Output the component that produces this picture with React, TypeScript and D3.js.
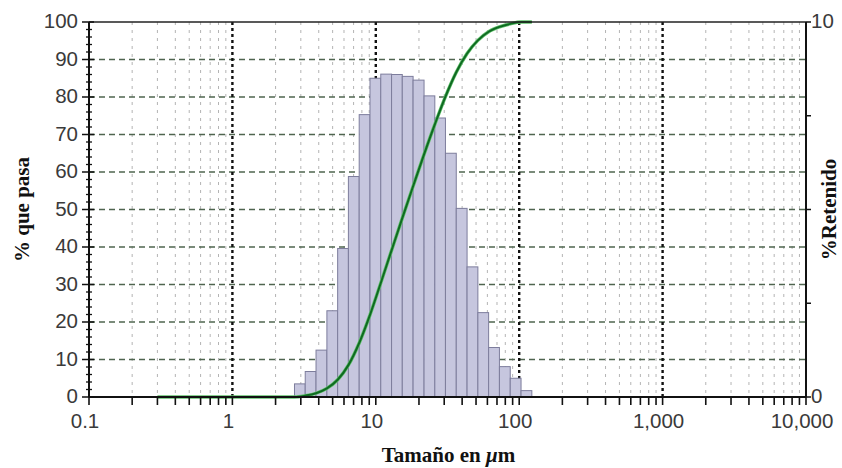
import * as d3 from 'd3';

// bin edges (µm), 22 bins
const binEdges = [2.71, 3.22, 3.83, 4.56, 5.42, 6.44, 7.66, 9.11, 10.83, 12.88, 15.3, 18.2, 21.7, 25.8, 30.6, 36.4, 43.3, 51.5, 61.2, 72.8, 86.6, 103, 122.5];
// % retained per bin (right axis)
const retained = [0.35, 0.68, 1.25, 2.3, 3.96, 5.88, 7.53, 8.5, 8.61, 8.6, 8.55, 8.45, 8.03, 7.44, 6.5, 5.03, 3.47, 2.25, 1.32, 0.81, 0.5, 0.17];

// cumulative passing curve (left axis)
const curveSize = [0.3, 2.71, 3.22, 3.83, 4.56, 5.42, 6.44, 7.66, 9.11, 10.83, 12.88, 15.3, 18.2, 21.7, 25.8, 30.6, 36.4, 43.3, 51.5, 61.2, 72.8, 86.6, 103, 122.5];
const curvePass = [0, 0, 0.35, 1.0, 2.3, 4.6, 8.5, 14.4, 21.9, 30.4, 39.1, 47.7, 56.2, 64.7, 72.7, 80.1, 86.6, 91.6, 95.1, 97.4, 98.7, 99.5, 100, 100];

const xTicks = [0.1, 1, 10, 100, 1000, 10000];
const xTickLabels = ['0.1', '1', '10', '100', '1,000', '10,000'];
const yTicks = [0, 10, 20, 30, 40, 50, 60, 70, 80, 90, 100];
const yRightTicks = [0, 2.5, 5, 7.5, 10];
const yRightLabels = ['0', '', '', '', '10'];

const left = 89, right = 806, top = 22, bottom = 397;

export default function App() {
    const x = d3.scaleLog().domain([0.1, 10000]).range([left, right]);
    const yL = d3.scaleLinear().domain([0, 100]).range([bottom, top]);
    const yR = d3.scaleLinear().domain([0, 10]).range([bottom, top]);

    // minor x positions 2..9 of each decade
    const minorX: number[] = [];
    xTicks.slice(0, -1).forEach(d => {
        for (let k = 2; k <= 9; k++) minorX.push(d * k);
    });
    const minorY = d3.range(0, 101, 2).filter(v => v % 10 !== 0);

    const line = d3.line<number>()
        .x((_, i) => x(curveSize[i]))
        .y(d => yL(d))
        .curve(d3.curveMonotoneX);

    const tickFont = { fontFamily: 'Arial, "Liberation Sans", sans-serif', fontSize: 20.5, fill: '#3a3a3a' };
    const titleFont = { fontFamily: '"Times New Roman", "Liberation Serif", serif', fontSize: 21, fontWeight: 'bold' as const, fill: '#111' };

    return (
        <svg width={842} height={468} style={{ position: 'absolute', left: 0, top: 0, background: '#fff' }}>
            {/* minor vertical grid */}
            {minorX.map((v, i) => (
                <line key={'mx' + i} x1={x(v)} x2={x(v)} y1={top} y2={bottom}
                    stroke="#b4b4b4" strokeWidth={1} strokeDasharray="3,5" />
            ))}
            {/* horizontal grid */}
            {yTicks.slice(1, -1).map(v => (
                <line key={'gy' + v} x1={left} x2={right} y1={yL(v)} y2={yL(v)}
                    stroke="#4f654f" strokeWidth={1.6} strokeDasharray="6,4" />
            ))}
            {/* decade vertical grid */}
            {xTicks.slice(1, -1).map(v => (
                <line key={'gx' + v} x1={x(v)} x2={x(v)} y1={top} y2={bottom}
                    stroke="#111" strokeWidth={2.4} strokeDasharray="3,3" />
            ))}

            {/* histogram */}
            {retained.map((v, i) => (
                <rect key={'b' + i}
                    x={x(binEdges[i])} width={x(binEdges[i + 1]) - x(binEdges[i])}
                    y={yR(v)} height={bottom - yR(v)}
                    fill="#c6c6de" stroke="#7d7d9c" strokeWidth={1} />
            ))}

            {/* cumulative curve */}
            <path d={line(curvePass) || ''} fill="none" stroke="#5fc06a" strokeWidth={3.4} />
            <path d={line(curvePass) || ''} fill="none" stroke="#0f6a22" strokeWidth={2} />

            {/* frame */}
            <line x1={left} x2={right} y1={top} y2={top} stroke="#222" strokeWidth={1.4} />
            <line x1={left} x2={right} y1={bottom} y2={bottom} stroke="#111" strokeWidth={2} />
            <line x1={left} x2={left} y1={top} y2={bottom} stroke="#111" strokeWidth={2} />
            <line x1={right} x2={right} y1={top} y2={bottom} stroke="#111" strokeWidth={2} />

            {/* left axis ticks */}
            {yTicks.map(v => (
                <g key={'yl' + v}>
                    <line x1={left - 7} x2={left + 5} y1={yL(v)} y2={yL(v)} stroke="#111" strokeWidth={1.5} />
                    <text x={left - 11} y={yL(v) - 1} dy="0.36em" textAnchor="end" {...tickFont}>{v}</text>
                </g>
            ))}
            {minorY.map(v => (
                <line key={'ym' + v} x1={left - 3} x2={left + 3} y1={yL(v)} y2={yL(v)} stroke="#111" strokeWidth={1.3} />
            ))}

            {/* right axis ticks */}
            {yRightTicks.map((v, i) => (
                <g key={'yr' + v}>
                    <line x1={right} x2={right + 5} y1={yR(v)} y2={yR(v)} stroke="#111" strokeWidth={1.5} />
                    <text x={right + 5} y={yR(v) - 1} dy="0.36em" textAnchor="start" {...tickFont}>{yRightLabels[i]}</text>
                </g>
            ))}

            {/* bottom axis ticks */}
            {xTicks.concat(minorX).map((v, i) => (
                <line key={'xt' + i} x1={x(v)} x2={x(v)} y1={bottom} y2={bottom + 8} stroke="#111" strokeWidth={1.6} />
            ))}
            {xTicks.map((v, i) => (
                <text key={'xl' + v} x={x(v) - 4} y={bottom + 31} textAnchor="middle" {...tickFont}>{xTickLabels[i]}</text>
            ))}

            {/* titles */}
            <text x={(left + right) / 2 + 1} y={462} textAnchor="middle" {...titleFont}>
                Tamaño en <tspan fontStyle="italic">μ</tspan>m
            </text>
            <text transform={`translate(29,${(top + bottom) / 2}) rotate(-90)`} textAnchor="middle" {...titleFont}>% que pasa</text>
            <text transform={`translate(836,${(top + bottom) / 2}) rotate(-90)`} textAnchor="middle" {...titleFont}>%Retenido</text>
        </svg>
    );
}
